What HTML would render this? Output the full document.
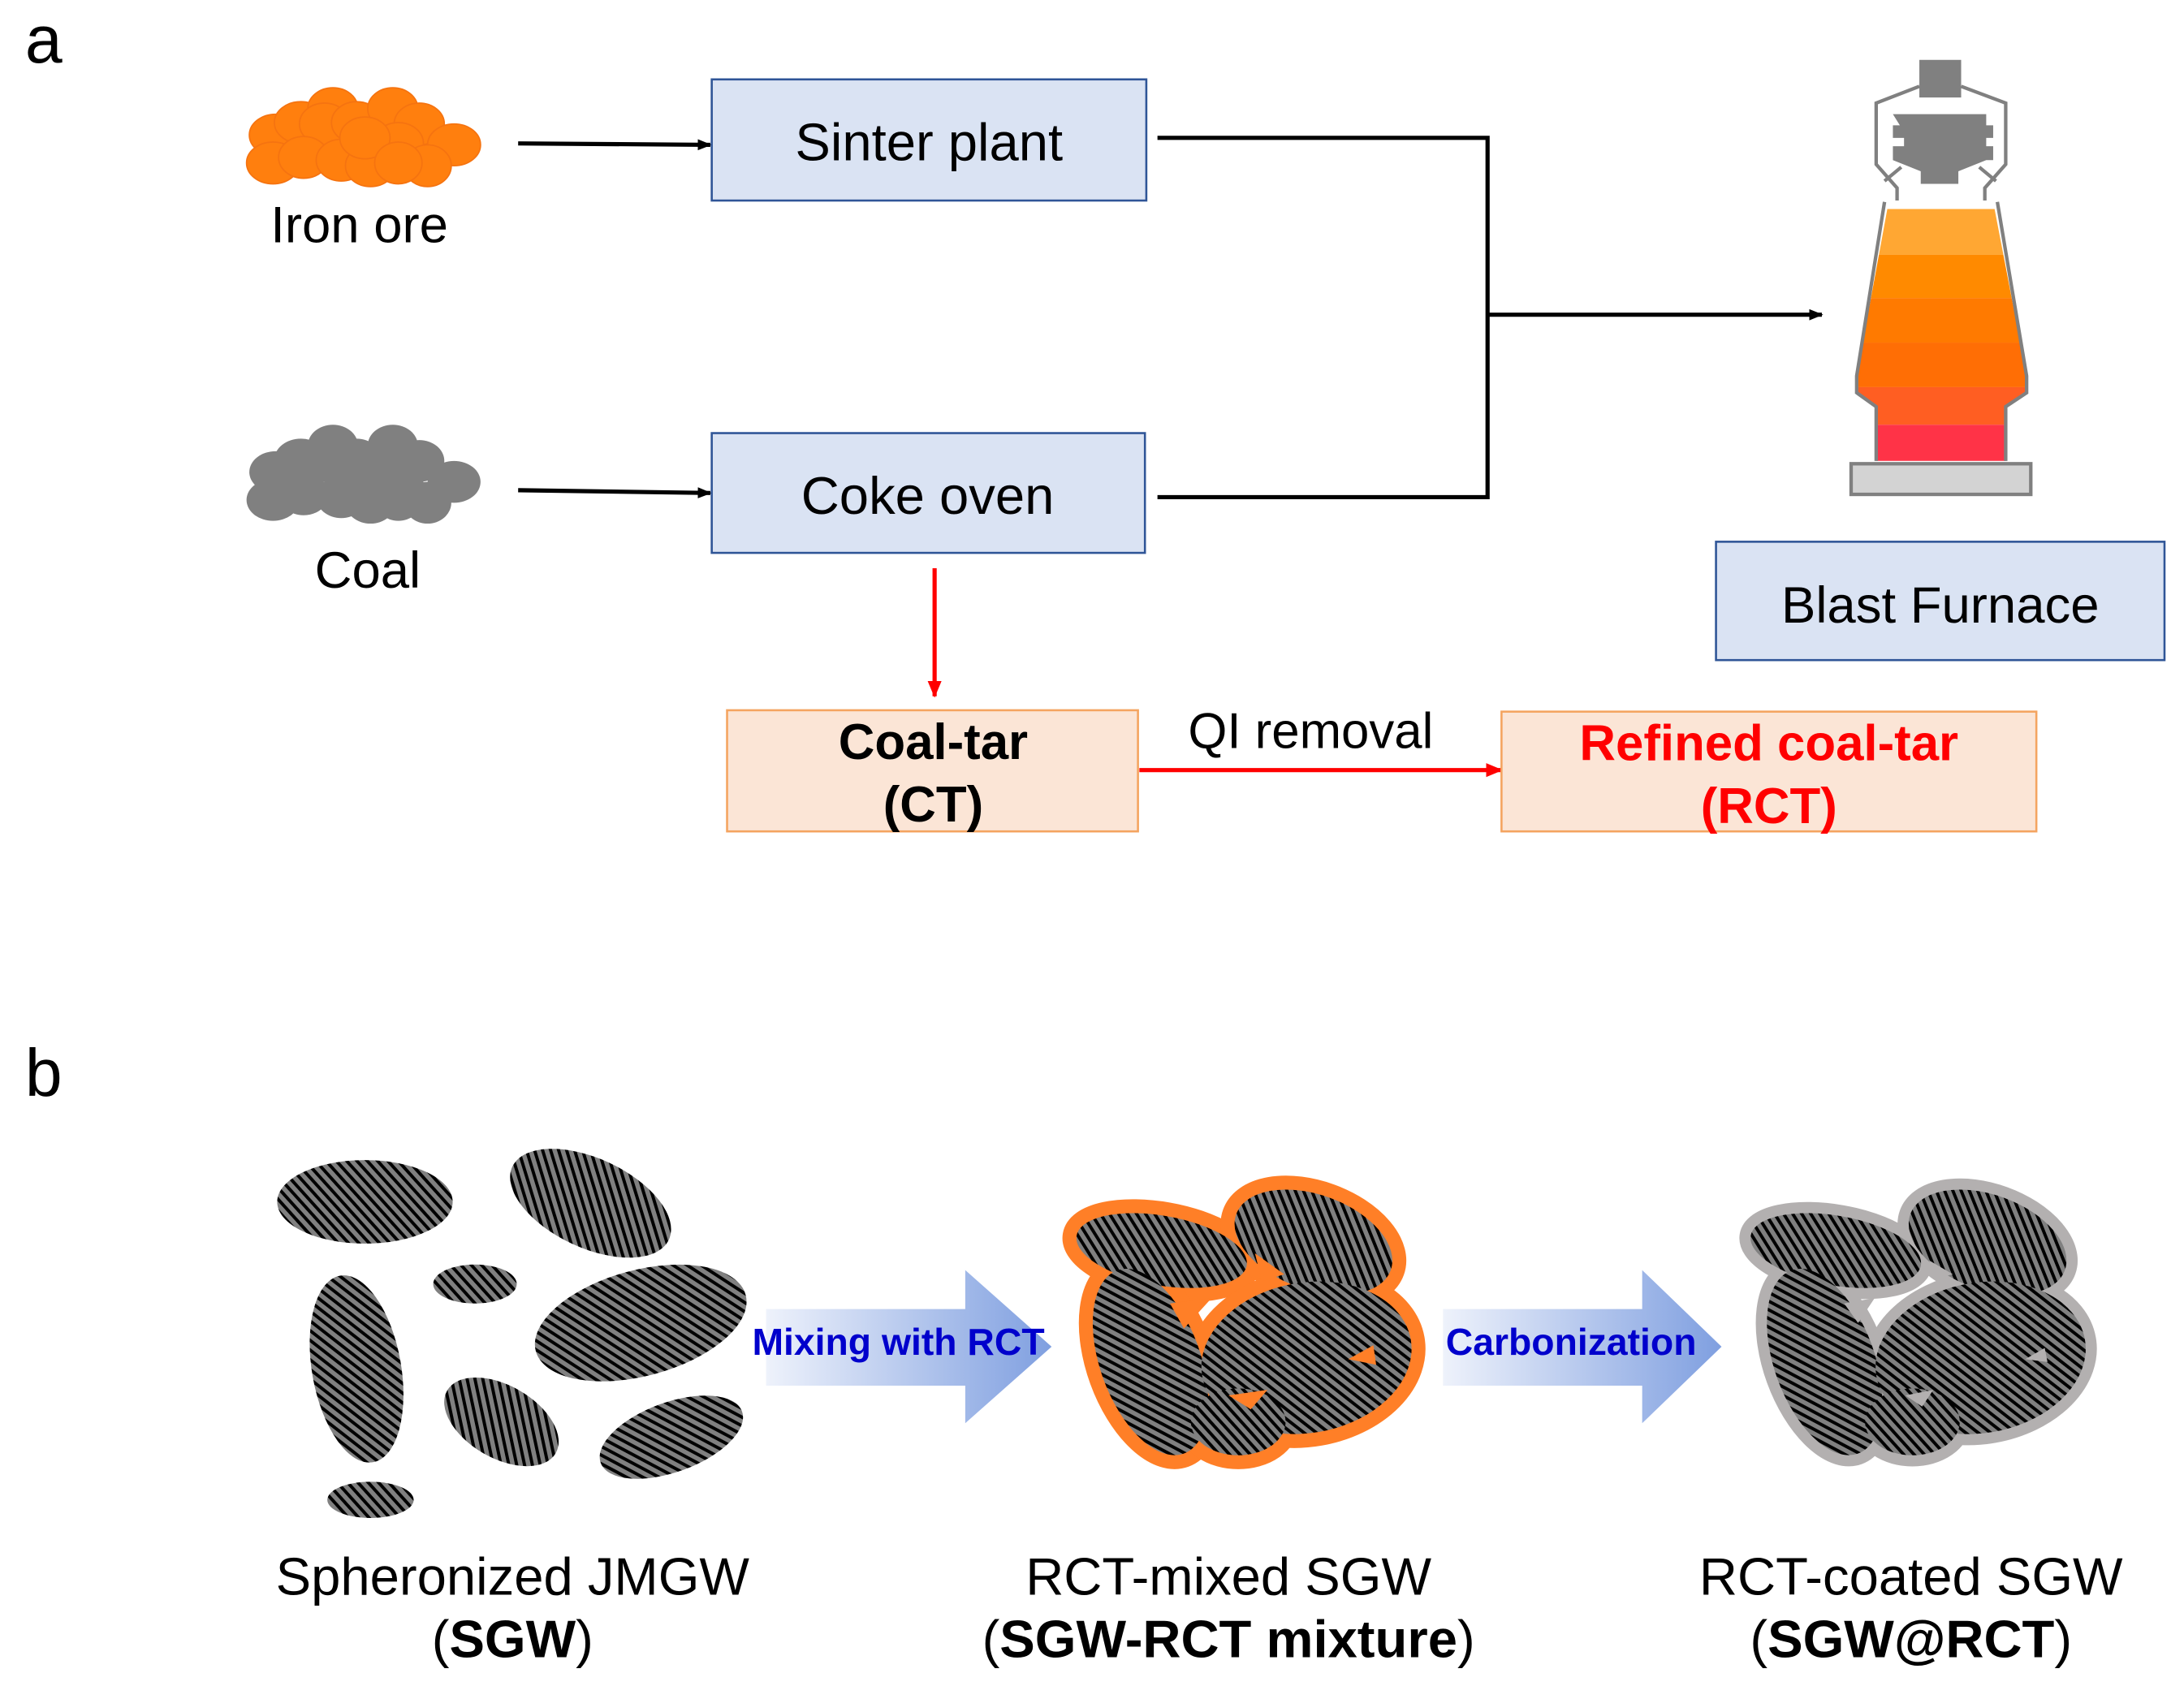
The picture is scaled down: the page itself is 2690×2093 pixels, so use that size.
<!DOCTYPE html>
<html><head><meta charset="utf-8"><style>
html,body{margin:0;padding:0;background:#fff;}
svg{display:block;}
text{font-family:"Liberation Sans",Arial,sans-serif;}
</style></head><body>
<svg width="2690" height="2093" viewBox="0 0 1568 1220" xmlns="http://www.w3.org/2000/svg">
<defs>
<pattern id="hatch" patternUnits="userSpaceOnUse" width="5.5" height="5.5" patternTransform="rotate(-42)">
<rect width="5.5" height="5.5" fill="#808080"/>
<rect x="0" width="2.3" height="5.5" fill="#000"/>
</pattern>
<marker id="ak" markerWidth="10" markerHeight="10" refX="9" refY="5" orient="auto" markerUnits="userSpaceOnUse"><path d="M0,1 L10,5 L0,9 Z" fill="#000"/></marker>
<marker id="ar" markerWidth="12" markerHeight="12" refX="11" refY="6" orient="auto" markerUnits="userSpaceOnUse"><path d="M0,1 L12,6 L0,11 Z" fill="#f00"/></marker>
<linearGradient id="bg" x1="0" x2="1" y1="0" y2="0"><stop offset="0" stop-color="#eef2fb"/><stop offset="1" stop-color="#7f9fe0"/></linearGradient>
<g id="ore">
<ellipse cx="198" cy="97" rx="19" ry="15"/><ellipse cx="216" cy="88" rx="19" ry="15"/><ellipse cx="239" cy="78" rx="18" ry="15"/><ellipse cx="233" cy="89" rx="18" ry="15"/><ellipse cx="256" cy="88" rx="18" ry="15"/><ellipse cx="282" cy="78" rx="18" ry="15"/><ellipse cx="301" cy="89" rx="18" ry="15"/><ellipse cx="326" cy="104" rx="19" ry="15"/><ellipse cx="196" cy="117" rx="19" ry="15"/><ellipse cx="218" cy="113" rx="18" ry="15"/><ellipse cx="245" cy="115" rx="18" ry="15"/><ellipse cx="266" cy="119" rx="18" ry="15"/><ellipse cx="286" cy="103" rx="18" ry="15"/><ellipse cx="307" cy="119" rx="17" ry="15"/><ellipse cx="262" cy="99" rx="18" ry="15"/><ellipse cx="286" cy="117" rx="17" ry="15"/>
</g>
<g id="clus">
<ellipse cx="834" cy="898" rx="62" ry="25" transform="rotate(10 834 898)"/>
<ellipse cx="943" cy="892" rx="59" ry="34" transform="rotate(20 943 892)"/>
<ellipse cx="826" cy="978" rx="36" ry="70" transform="rotate(-20 826 978)"/>
<ellipse cx="938" cy="975" rx="76" ry="54" transform="rotate(-10 938 975)"/>
<ellipse cx="889" cy="1021" rx="34" ry="24"/>
</g>
</defs>
<rect width="1568" height="1220" fill="#fff"/>
<text x="18" y="45" font-size="48">a</text>
<text x="18" y="787" font-size="48">b</text>
<use href="#ore" fill="#ff7f0e" stroke="#f57310" stroke-width="1"/>
<use href="#ore" fill="#808080" transform="translate(0,242)"/>
<text x="258" y="174" font-size="37" text-anchor="middle">Iron ore</text>
<text x="264" y="422" font-size="37" text-anchor="middle">Coal</text>
<line x1="372" y1="103" x2="510" y2="104" stroke="#000" stroke-width="3" marker-end="url(#ak)"/>
<line x1="372" y1="352" x2="510" y2="354" stroke="#000" stroke-width="3" marker-end="url(#ak)"/>
<rect x="511" y="57" width="312" height="87" fill="#dae3f3" stroke="#2f5597" stroke-width="1.5"/>
<text x="667" y="115" font-size="38" text-anchor="middle">Sinter plant</text>
<rect x="511" y="311" width="311" height="86" fill="#dae3f3" stroke="#2f5597" stroke-width="1.5"/>
<text x="666" y="369" font-size="38" text-anchor="middle">Coke oven</text>
<polyline points="831,99 1068,99 1068,357 831,357" fill="none" stroke="#000" stroke-width="3"/>
<line x1="1068" y1="226" x2="1308" y2="226" stroke="#000" stroke-width="3" marker-end="url(#ak)"/>
<g>
<rect x="1378" y="43" width="30" height="27" fill="#808080"/>
<polyline points="1378,62 1347,74 1347,118 1362,135 1362,144" fill="none" stroke="#808080" stroke-width="2.5"/>
<polyline points="1408,62 1440,74 1440,118 1425,135 1425,144" fill="none" stroke="#808080" stroke-width="2.5"/>
<path d="M1359,82 h67 v8 h5 v9 h-5 v6 h5 v10 h-5 l-20,8 v9 h-27 v-9 l-20,-8 v-10 h8 v-6 h-8 v-9 h5 z" fill="#808080"/>
<path d="M1365,120 l-12,10 M1421,120 l12,10" stroke="#808080" stroke-width="2.5"/>
<clipPath id="fc"><path d="M1355,150 L1432,150 L1455,270 L1455,282 L1440,292 L1440,331 L1347,331 L1347,292 L1333,282 L1333,270 Z"/></clipPath>
<g clip-path="url(#fc)">
<rect x="1330" y="150" width="130" height="33" fill="#ffa733"/>
<rect x="1330" y="183" width="130" height="31" fill="#ff8a00"/>
<rect x="1330" y="214" width="130" height="32" fill="#ff7a00"/>
<rect x="1330" y="246" width="130" height="32" fill="#ff6e05"/>
<rect x="1330" y="278" width="130" height="27" fill="#ff5e22"/>
<rect x="1330" y="305" width="130" height="27" fill="#ff3347"/>
</g>
<path d="M1353,145 L1333,270 L1333,282 L1347,292 L1347,331 M1434,145 L1455,270 L1455,282 L1440,292 L1440,331" fill="none" stroke="#808080" stroke-width="2.5"/>
<rect x="1329" y="333" width="129" height="22" fill="#d3d3d3" stroke="#808080" stroke-width="2.5"/>
</g>
<rect x="1232" y="389" width="322" height="85" fill="#dae3f3" stroke="#2f5597" stroke-width="1.5"/>
<text x="1393" y="447" font-size="37" text-anchor="middle">Blast Furnace</text>
<line x1="671" y1="408" x2="671" y2="500" stroke="#f00" stroke-width="3" marker-end="url(#ar)"/>
<rect x="522" y="510" width="295" height="87" fill="#fbe5d6" stroke="#f4a460" stroke-width="1.5"/>
<text x="670" y="545" font-size="36" font-weight="bold" text-anchor="middle">Coal-tar</text>
<text x="670" y="590" font-size="36" font-weight="bold" text-anchor="middle">(CT)</text>
<line x1="818" y1="553" x2="1078" y2="553" stroke="#f00" stroke-width="3" marker-end="url(#ar)"/>
<text x="941" y="537" font-size="36" text-anchor="middle">QI removal</text>
<rect x="1078" y="511" width="384" height="86" fill="#fbe5d6" stroke="#f4a460" stroke-width="1.5"/>
<text x="1270" y="546" font-size="36" font-weight="bold" fill="#f00" text-anchor="middle">Refined coal-tar</text>
<text x="1270" y="591" font-size="36" font-weight="bold" fill="#f00" text-anchor="middle">(RCT)</text>
<g fill="url(#hatch)">
<ellipse cx="262" cy="863" rx="63" ry="30"/>
<ellipse cx="424" cy="864" rx="62" ry="32" transform="rotate(25 424 864)"/>
<ellipse cx="341" cy="922" rx="30" ry="14"/>
<ellipse cx="460" cy="950" rx="78" ry="38" transform="rotate(-15 460 950)"/>
<ellipse cx="256" cy="983" rx="32" ry="68" transform="rotate(-10 256 983)"/>
<ellipse cx="360" cy="1021" rx="45" ry="26" transform="rotate(30 360 1021)"/>
<ellipse cx="482" cy="1032" rx="54" ry="25" transform="rotate(-20 482 1032)"/>
<ellipse cx="266" cy="1077" rx="31" ry="13"/>
</g>
<path d="M550,940 H693 V912 L755,967 L693,1022 V995 H550 Z" fill="url(#bg)"/>
<text x="645" y="973" font-size="27" font-weight="bold" fill="#0000cc" text-anchor="middle">Mixing with RCT</text>
<path d="M1036,940 H1179 V912 L1236,967 L1179,1022 V995 H1036 Z" fill="url(#bg)"/>
<text x="1128" y="973" font-size="27" font-weight="bold" fill="#0000cc" text-anchor="middle">Carbonization</text>
<use href="#clus" fill="#ff7f27" stroke="#ff7f27" stroke-width="20"/>
<use href="#clus" fill="url(#hatch)"/>
<g fill="#ff7f27">
<path d="M840,936 L870,932 L850,954 Z"/><path d="M901,900 L922,915 L906,920 Z"/><path d="M968,976 L986,966 L988,980 Z"/><path d="M882,1002 L910,998 L898,1012 Z"/>
</g>
<g transform="translate(484,0)">
<use href="#clus" fill="#b3b0b0" stroke="#b3b0b0" stroke-width="16"/>
<use href="#clus" fill="url(#hatch)"/>
<g fill="#b3b0b0">
<path d="M840,936 L862,932 L850,950 Z"/><path d="M901,905 L918,915 L906,918 Z"/><path d="M970,976 L984,968 L986,978 Z"/><path d="M884,1002 L904,998 L896,1010 Z"/>
</g>
</g>
<text x="368" y="1145" font-size="38" text-anchor="middle">Spheronized JMGW</text>
<text x="368" y="1190" font-size="38" text-anchor="middle">(<tspan font-weight="bold">SGW</tspan>)</text>
<text x="882" y="1145" font-size="38" text-anchor="middle">RCT-mixed SGW</text>
<text x="882" y="1190" font-size="38" text-anchor="middle">(<tspan font-weight="bold">SGW-RCT mixture</tspan>)</text>
<text x="1372" y="1145" font-size="38" text-anchor="middle">RCT-coated SGW</text>
<text x="1372" y="1190" font-size="38" text-anchor="middle">(<tspan font-weight="bold">SGW@RCT</tspan>)</text>
</svg>
</body></html>
